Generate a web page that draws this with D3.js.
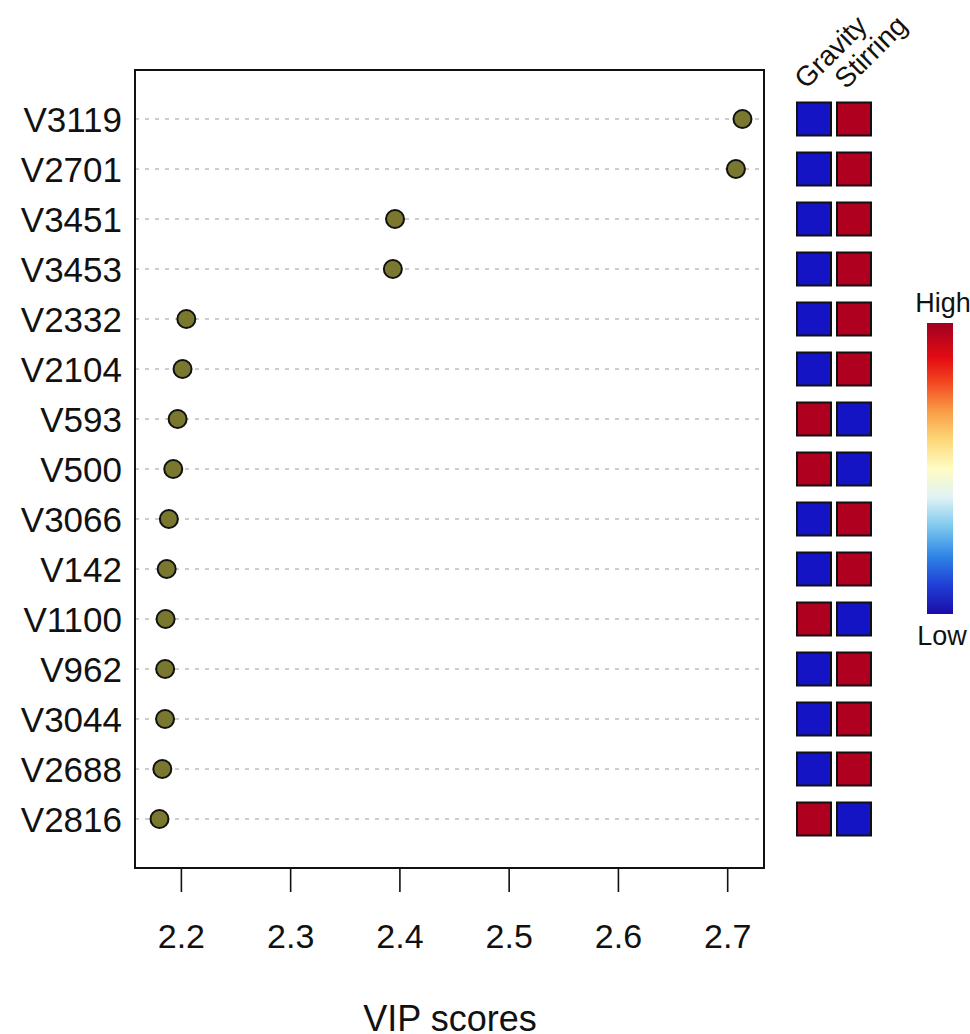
<!DOCTYPE html>
<html>
<head>
<meta charset="utf-8">
<script src="https://cdn.jsdelivr.net/npm/d3@7"></script>
<style>
  html, body { margin: 0; padding: 0; background: #ffffff; }
  svg { display: block; font-family: "Liberation Sans", Arial, sans-serif; }
</style>
</head>
<body>
<svg id="chart" width="970" height="1034"></svg>
<script>
// Variables ranked by VIP score (top to bottom)
const variables = ["V3119", "V2701", "V3451", "V3453", "V2332", "V2104", "V593", "V500",
                   "V3066", "V142", "V1100", "V962", "V3044", "V2688", "V2816"];
const vipScores = [2.714, 2.708, 2.396, 2.394, 2.205, 2.2015, 2.197, 2.193,
                   2.189, 2.187, 2.186, 2.1856, 2.1855, 2.183, 2.1804];
// Relative level of each variable in the two groups (1 = high, 0 = low)
const groups = ["Gravity", "Stirring"];
const gravityLevel  = [0, 0, 0, 0, 0, 0, 1, 1, 0, 0, 1, 0, 0, 0, 1];
const stirringLevel = [1, 1, 1, 1, 1, 1, 0, 0, 1, 1, 0, 1, 1, 1, 0];
const xTicks = [2.2, 2.3, 2.4, 2.5, 2.6, 2.7];
const legendLabels = ["High", "Low"];

const svg = d3.select("#chart");

const box = { left: 135, right: 764, top: 70, bottom: 868 };

const x = d3.scaleLinear()
  .domain([2.158, 2.7337])
  .range([box.left, box.right]);

const y = d3.scalePoint()
  .domain(variables)
  .range([119, 819]);

// Dotted guide lines for each variable
svg.append("g")
  .selectAll("line")
  .data(variables)
  .join("line")
  .attr("x1", box.left)
  .attr("x2", box.right)
  .attr("y1", d => y(d))
  .attr("y2", d => y(d))
  .attr("stroke", "#bdbdbd")
  .attr("stroke-width", 1.6)
  .attr("stroke-dasharray", "4,6");

// Plot frame
svg.append("rect")
  .attr("x", box.left)
  .attr("y", box.top)
  .attr("width", box.right - box.left)
  .attr("height", box.bottom - box.top)
  .attr("fill", "none")
  .attr("stroke", "#111")
  .attr("stroke-width", 2);

// Variable labels
svg.append("g")
  .selectAll("text")
  .data(variables)
  .join("text")
  .attr("x", 122)
  .attr("y", d => y(d))
  .attr("dy", "0.36em")
  .attr("text-anchor", "end")
  .attr("font-size", 35)
  .attr("fill", "#111")
  .text(d => d);

// VIP score points
svg.append("g")
  .selectAll("circle")
  .data(variables)
  .join("circle")
  .attr("cx", (d, i) => x(vipScores[i]))
  .attr("cy", d => y(d))
  .attr("r", 9)
  .attr("fill", "#7a782e")
  .attr("stroke", "#111")
  .attr("stroke-width", 2);

// X axis
const xAxis = d3.axisBottom(x)
  .tickValues(xTicks)
  .tickFormat(d3.format(".1f"))
  .tickSize(24)
  .tickPadding(32);

const gx = svg.append("g")
  .attr("transform", `translate(0,${box.bottom})`)
  .call(xAxis);
gx.select(".domain").remove();
gx.selectAll(".tick line").attr("stroke", "#111").attr("stroke-width", 1.6);
gx.selectAll(".tick text")
  .attr("font-size", 34)
  .attr("fill", "#111")
  .attr("font-family", "Liberation Sans, Arial, sans-serif");

svg.append("text")
  .attr("x", 450)
  .attr("y", 1031)
  .attr("text-anchor", "middle")
  .attr("font-size", 36)
  .attr("fill", "#111")
  .text("VIP scores");

// Group heatmap cells
const colX = d3.scaleBand()
  .domain(groups)
  .range([797, 871])
  .paddingInner(0.15);

const cellColor = v => v === 1 ? "#b0001f" : "#1414c4";
const cellSize = 33;

const levels = [gravityLevel, stirringLevel];
groups.forEach((g, gi) => {
  svg.append("g")
    .selectAll("rect")
    .data(variables)
    .join("rect")
    .attr("x", colX(g))
    .attr("y", d => y(d) - cellSize / 2)
    .attr("width", colX.bandwidth())
    .attr("height", cellSize)
    .attr("fill", (d, i) => cellColor(levels[gi][i]))
    .attr("stroke", "#111")
    .attr("stroke-width", 2);

  svg.append("text")
    .attr("transform", `translate(${colX(g) + 9},${90}) rotate(-45)`)
    .attr("font-size", 28)
    .attr("fill", "#111")
    .text(g);
});

// Colour key
const defs = svg.append("defs");
const grad = defs.append("linearGradient")
  .attr("id", "levelGradient")
  .attr("x1", 0).attr("y1", 1).attr("x2", 0).attr("y2", 0);
const gradStops = [
  [0.00, "#1a0ca8"], [0.10, "#1f3fd6"], [0.20, "#2f86e6"], [0.30, "#7cc8ee"],
  [0.40, "#dff2f4"], [0.50, "#fffcc4"], [0.60, "#fcd777"], [0.70, "#f99a45"],
  [0.80, "#f2441f"], [0.88, "#e30c12"], [1.00, "#a10021"]
];
grad.selectAll("stop")
  .data(gradStops)
  .join("stop")
  .attr("offset", d => d[0])
  .attr("stop-color", d => d[1]);

const legendY = d3.scaleLinear().domain([0, 1]).range([614, 323]);
svg.append("rect")
  .attr("x", 927)
  .attr("y", legendY(1))
  .attr("width", 26)
  .attr("height", legendY(0) - legendY(1))
  .attr("fill", "url(#levelGradient)");

svg.append("text")
  .attr("x", 943).attr("y", 312)
  .attr("text-anchor", "middle")
  .attr("font-size", 27)
  .attr("fill", "#111")
  .text(legendLabels[0]);
svg.append("text")
  .attr("x", 942).attr("y", 645)
  .attr("text-anchor", "middle")
  .attr("font-size", 27)
  .attr("fill", "#111")
  .text(legendLabels[1]);
</script>
</body>
</html>
